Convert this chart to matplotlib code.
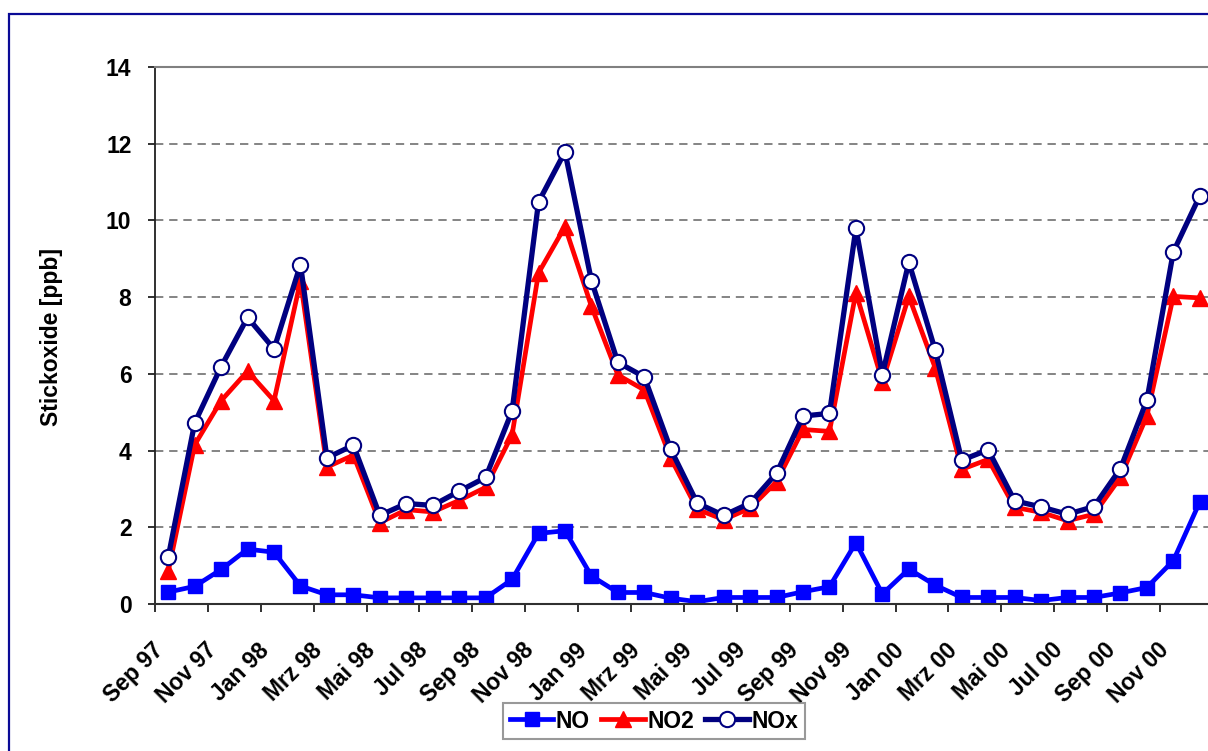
import matplotlib
matplotlib.use("Agg")
import matplotlib.pyplot as plt
from matplotlib.patches import Rectangle
import numpy as np

plt.rcParams['font.family'] = ['Liberation Sans', 'DejaVu Sans']
plt.rcParams['font.weight'] = 'bold'

# monthly values Sep 97 .. Dec 00
month_names = ['Jan', 'Feb', 'Mrz', 'Apr', 'Mai', 'Jun',
               'Jul', 'Aug', 'Sep', 'Okt', 'Nov', 'Dez']
months = []
for k in range(40):
    m = (8 + k) % 12
    yr = (97 + (8 + k) // 12) % 100
    months.append('%s %02d' % (month_names[m], yr))

no = [0.31, 0.46, 0.90, 1.43, 1.35, 0.47, 0.24, 0.24, 0.16, 0.16,
      0.16, 0.16, 0.16, 0.64, 1.84, 1.91, 0.73, 0.30, 0.30, 0.15,
      0.06, 0.17, 0.17, 0.17, 0.32, 0.45, 1.60, 0.26, 0.91, 0.49,
      0.17, 0.17, 0.17, 0.09, 0.17, 0.17, 0.29, 0.43, 1.13, 2.66]
no2 = [0.85, 4.15, 5.30, 6.07, 5.30, 8.42, 3.57, 3.88, 2.12, 2.46,
       2.40, 2.70, 3.04, 4.41, 8.63, 9.84, 7.76, 5.97, 5.58, 3.80,
       2.47, 2.20, 2.50, 3.19, 4.55, 4.50, 8.12, 5.80, 8.02, 6.15,
       3.51, 3.77, 2.52, 2.39, 2.17, 2.34, 3.30, 4.90, 8.02, 7.98]
nox = [1.22, 4.72, 6.19, 7.47, 6.65, 8.85, 3.81, 4.14, 2.31, 2.62,
       2.57, 2.94, 3.30, 5.03, 10.48, 11.79, 8.43, 6.30, 5.92, 4.03,
       2.63, 2.31, 2.63, 3.41, 4.90, 4.97, 9.80, 5.98, 8.91, 6.61,
       3.75, 4.02, 2.69, 2.53, 2.34, 2.54, 3.53, 5.31, 9.18, 10.64]

W, H = 1208, 751
FS = 16.5
fig = plt.figure(figsize=(W / 100, H / 100), dpi=100)

# outer chart border (right/bottom edges fall outside the picture)
fig.patches.append(Rectangle((9 / W, -0.1), 1.2, 1 - 14 / H + 0.1,
                             transform=fig.transFigure, fill=False,
                             edgecolor='#0a0a96', lw=1.6))

ax = fig.add_axes([155 / W, 1 - 604 / H, (1213 - 155) / W, (604 - 67) / H])
x = np.arange(len(months))

ax.plot(x, no, color='#0000ff', lw=3.4, marker='s', ms=10.5,
        label='NO', solid_joinstyle='miter')
ax.plot(x, no2, color='#ff0000', lw=3.4, marker='^', ms=12,
        label='NO2')
ax.plot(x, nox, color='#000080', lw=3.8, marker='o', ms=11,
        mfc='white', mec='#000080', mew=1.5, label='NOx')

ax.set_xlim(-0.5, len(months) - 0.5)
ax.set_ylim(0, 14)
ax.set_yticks(np.arange(0, 15, 2))
ax.yaxis.grid(True, color='#707070', ls=(0, (5, 3.5)), lw=1.2)
ax.set_axisbelow(True)

ax.set_xticks(np.arange(-0.5, len(months), 2))
ax.set_xticklabels([])
ax.set_xticks(x[::2], minor=True)
ax.set_xticklabels(months[::2], minor=True, rotation=45, ha='right',
                   va='top', fontsize=FS, fontweight='bold')
ax.tick_params(axis='x', which='major', direction='out', length=6,
               width=1.3, color='#202020')
ax.tick_params(axis='x', which='minor', length=0, pad=25)
ax.tick_params(axis='y', direction='out', length=5, width=1.3,
               color='#202020', labelsize=FS, pad=12)
for lab in ax.get_yticklabels():
    lab.set_fontweight('bold')

ax.spines['left'].set_color('#202020')
ax.spines['bottom'].set_color('#303030')
ax.spines['left'].set_linewidth(1.3)
ax.spines['bottom'].set_linewidth(1.5)
ax.spines['top'].set_color('#808080')
ax.spines['top'].set_linewidth(1.5)
ax.spines['right'].set_visible(False)

fig.text(52 / W, 1 - 337 / H, 'Stickoxide [ppb]', rotation=90,
         ha='center', va='center', fontsize=FS, fontweight='bold')

leg = fig.legend(loc='center', bbox_to_anchor=(654 / W, 1 - 721 / H),
                 ncol=3, frameon=True, fancybox=False,
                 handlelength=1.9, handletextpad=0.1, columnspacing=0.5,
                 borderpad=0.3, borderaxespad=0,
                 prop={'weight': 'bold', 'size': FS})
leg.get_frame().set_edgecolor('#808080')
leg.get_frame().set_linewidth(1.5)

fig.savefig('out.png', dpi=100)
